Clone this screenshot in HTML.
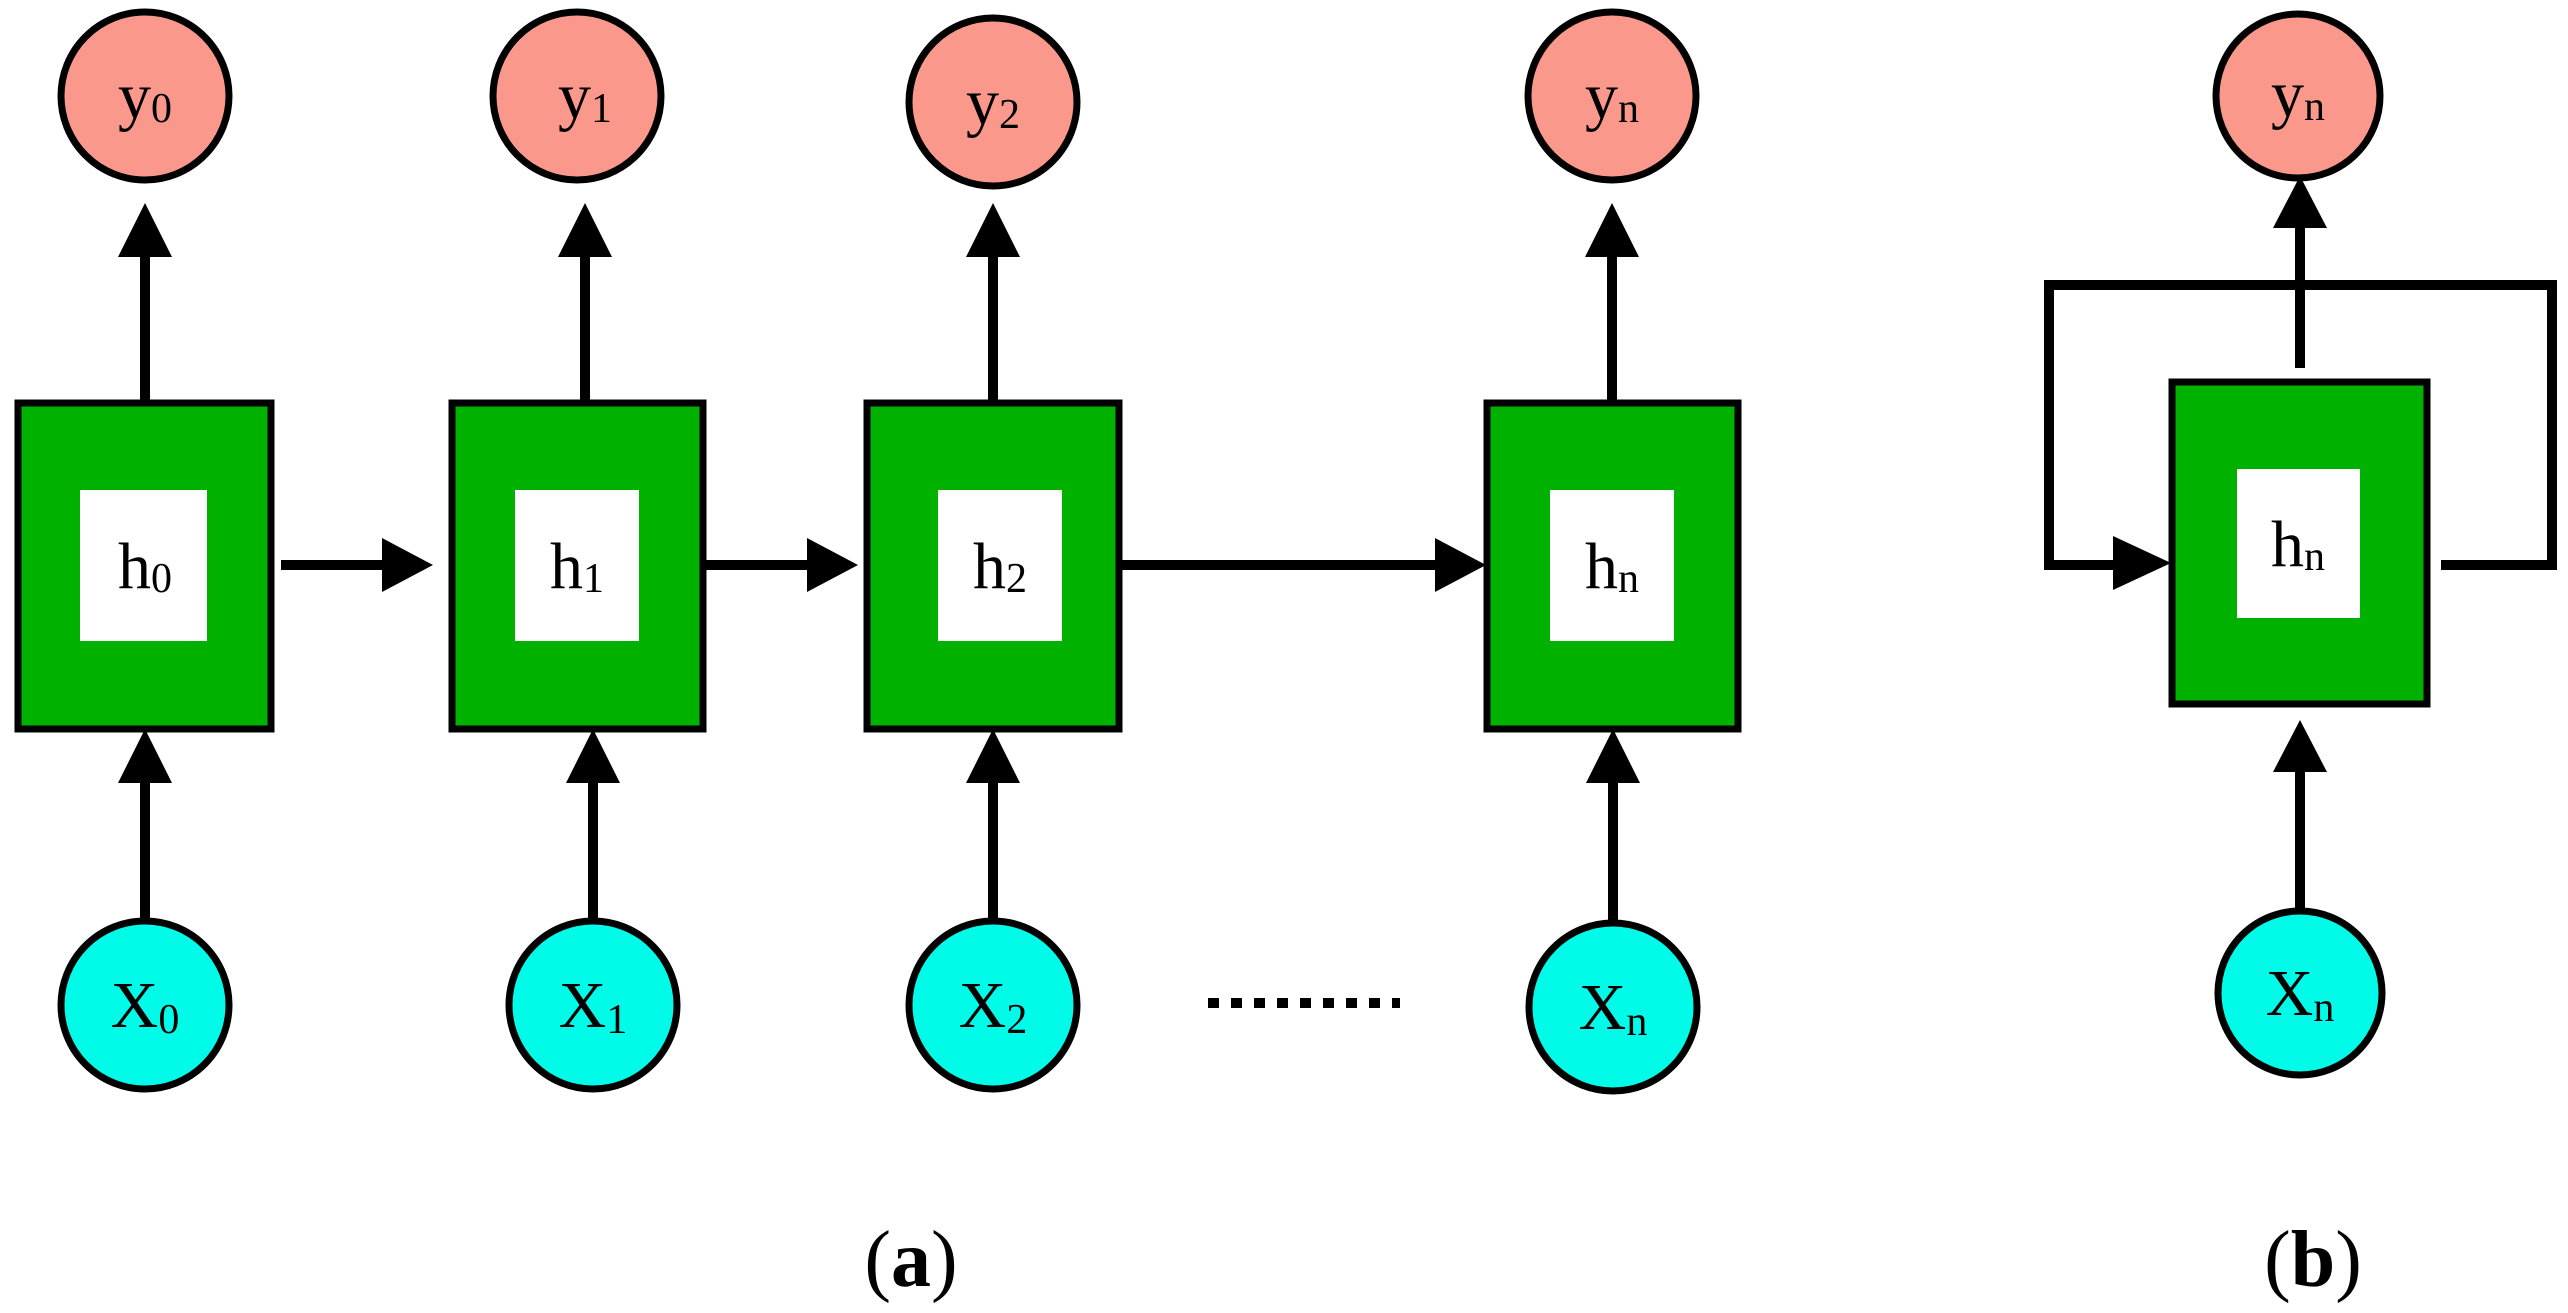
<!DOCTYPE html>
<html><head><meta charset="utf-8"><style>
html,body{margin:0;padding:0;background:#fff;}
svg{display:block;}
text{font-family:"Liberation Serif",serif;fill:#000;}
</style></head><body>
<svg width="2568" height="1313" viewBox="0 0 2568 1313" xmlns="http://www.w3.org/2000/svg">
<g stroke="#000" stroke-width="7">
  <circle cx="145" cy="96" r="84" fill="#fa998b"/>
  <circle cx="577" cy="96" r="84" fill="#fa998b"/>
  <circle cx="993" cy="102" r="84" fill="#fa998b"/>
  <circle cx="1612" cy="96" r="84" fill="#fa998b"/>
  <circle cx="2298" cy="96" r="82" fill="#fa998b"/>
  <circle cx="145" cy="1005" r="84" fill="#00fbe9"/>
  <circle cx="593" cy="1005" r="84" fill="#00fbe9"/>
  <circle cx="993" cy="1005" r="84" fill="#00fbe9"/>
  <circle cx="1613" cy="1007" r="84" fill="#00fbe9"/>
  <circle cx="2300" cy="993" r="82" fill="#00fbe9"/>
  <rect x="18" y="403" width="253" height="326" fill="#00b100"/>
  <rect x="452" y="403" width="251" height="326" fill="#00b100"/>
  <rect x="867" y="403" width="252" height="326" fill="#00b100"/>
  <rect x="1487" y="403" width="251" height="326" fill="#00b100"/>
  <rect x="2172" y="382" width="255" height="322" fill="#00b100"/>
</g>
<g fill="#fff">
  <rect x="80" y="490" width="127" height="151"/>
  <rect x="515" y="490" width="124" height="151"/>
  <rect x="938" y="490" width="124" height="151"/>
  <rect x="1550" y="490" width="124" height="151"/>
  <rect x="2237" y="469" width="123" height="149"/>
</g>
<g stroke="#000" stroke-width="10" fill="none">
  <line x1="145" y1="403" x2="145" y2="250"/>
  <line x1="585" y1="403" x2="585" y2="250"/>
  <line x1="993" y1="403" x2="993" y2="250"/>
  <line x1="1612" y1="403" x2="1612" y2="250"/>
  <line x1="145" y1="921" x2="145" y2="775"/>
  <line x1="593" y1="921" x2="593" y2="775"/>
  <line x1="993" y1="921" x2="993" y2="775"/>
  <line x1="1613" y1="923" x2="1613" y2="775"/>
  <line x1="281" y1="565" x2="390" y2="565"/>
  <line x1="703" y1="565" x2="815" y2="565"/>
  <line x1="1119" y1="565" x2="1440" y2="565"/>
  <line x1="2300" y1="368" x2="2300" y2="220"/>
  <line x1="2300" y1="911" x2="2300" y2="765"/>
  <polyline points="2120,565 2049,565 2049,285 2552,285 2552,565 2441,565"/>
</g>
<line x1="1208" y1="1003" x2="1400" y2="1003" stroke="#000" stroke-width="10" stroke-dasharray="11,12"/>
<g fill="#000">
  <polygon points="145,203 118,257 172,257"/>
  <polygon points="585,203 558,257 612,257"/>
  <polygon points="993,203 966,257 1020,257"/>
  <polygon points="1612,203 1585,257 1639,257"/>
  <polygon points="145,729 118,783 172,783"/>
  <polygon points="593,729 566,783 620,783"/>
  <polygon points="993,729 966,783 1020,783"/>
  <polygon points="1613,729 1586,783 1640,783"/>
  <polygon points="433,565 382,538 382,592"/>
  <polygon points="858,565 807,538 807,592"/>
  <polygon points="1486,565 1435,538 1435,592"/>
  <polygon points="2300,176 2273,228 2327,228"/>
  <polygon points="2300,720 2273,772 2327,772"/>
  <polygon points="2171,563 2113,536 2113,590"/>
</g>
<g font-size="66" text-anchor="middle">
  <text x="145" y="118">y<tspan font-size="42" dy="4">0</tspan></text>
  <text x="585" y="118">y<tspan font-size="42" dy="4">1</tspan></text>
  <text x="993" y="124">y<tspan font-size="42" dy="4">2</tspan></text>
  <text x="1612" y="118">y<tspan font-size="42" dy="4">n</tspan></text>
  <text x="2298" y="116">y<tspan font-size="42" dy="4">n</tspan></text>
  <text x="145" y="1027">X<tspan font-size="42" dy="6">0</tspan></text>
  <text x="593" y="1027">X<tspan font-size="42" dy="6">1</tspan></text>
  <text x="993" y="1027">X<tspan font-size="42" dy="6">2</tspan></text>
  <text x="1613" y="1029">X<tspan font-size="42" dy="6">n</tspan></text>
  <text x="2300" y="1015">X<tspan font-size="42" dy="6">n</tspan></text>
  <text x="145" y="588">h<tspan font-size="42" dy="4">0</tspan></text>
  <text x="577" y="588">h<tspan font-size="42" dy="4">1</tspan></text>
  <text x="1000" y="588">h<tspan font-size="42" dy="4">2</tspan></text>
  <text x="1612" y="588">h<tspan font-size="42" dy="4">n</tspan></text>
  <text x="2298" y="566">h<tspan font-size="42" dy="4">n</tspan></text>
</g>
<g font-size="80" text-anchor="middle">
  <text x="911" y="1286">(<tspan font-weight="bold">a</tspan>)</text>
  <text x="2313" y="1286">(<tspan font-weight="bold">b</tspan>)</text>
</g>
</svg>
</body></html>
